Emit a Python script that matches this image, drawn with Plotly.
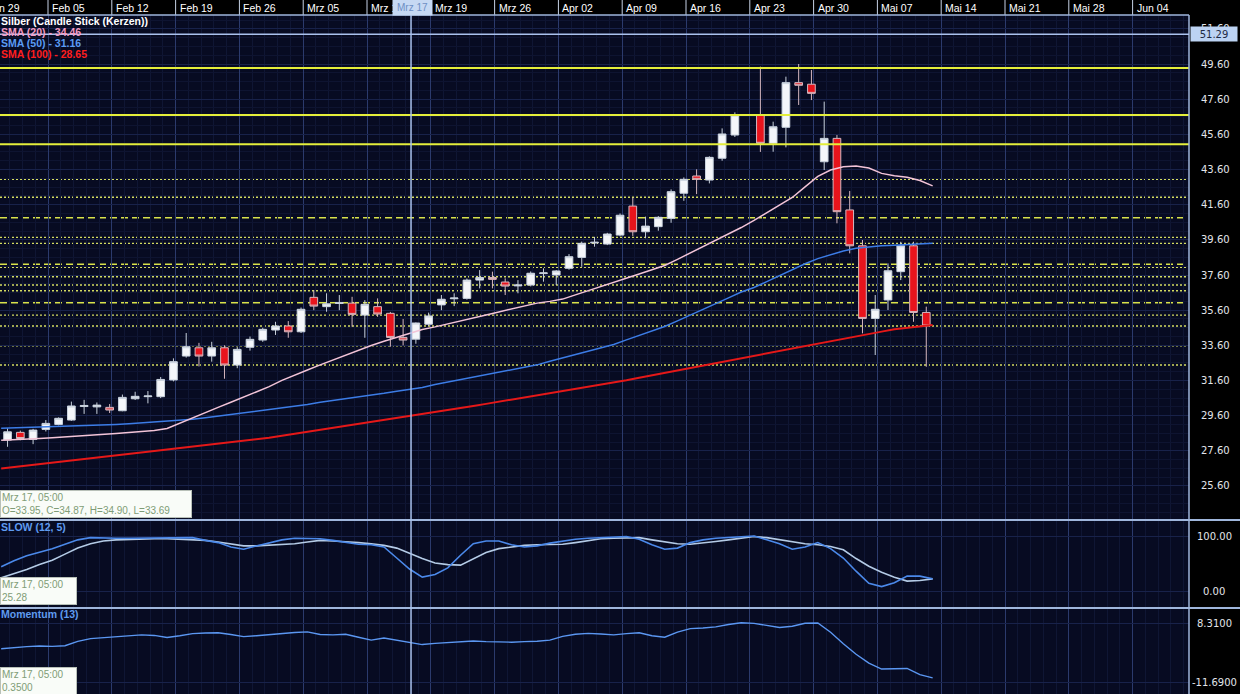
import numpy as np
import pandas as pd
import plotly.graph_objects as go

W, H = 1240, 694

# ---------------- data ----------------
dates = pd.bdate_range("2011-01-31", "2011-05-12")  # 74 trading days

opens = [28.10, 28.21, 28.65, 28.25, 28.82, 29.10, 29.35, 30.12, 30.10, 30.07,
         29.88, 30.56, 30.68, 30.68, 31.63, 32.99, 33.46, 32.99, 33.46, 32.48,
         33.49, 33.90, 34.47, 34.70, 34.37, 36.33, 35.80, 35.98, 36.00, 35.32,
         35.80, 35.42, 34.05, 33.95, 34.80, 35.90, 36.25, 36.27, 37.31, 37.46,
         37.20, 36.98, 37.03, 37.68, 37.60, 37.98, 38.60, 39.42, 39.36, 39.87,
         41.52, 40.06, 40.35, 40.82, 42.25, 43.23, 43.00, 44.24, 45.56, 46.68,
         46.70, 45.09, 46.00, 48.54, 48.45, 44.04, 45.37, 41.30, 39.26, 35.13,
         36.18, 37.79, 39.26, 35.47]
highs = [28.50, 28.88, 28.75, 28.85, 29.35, 29.50, 30.40, 30.50, 30.35, 30.26,
         30.80, 30.96, 31.00, 31.80, 32.86, 34.30, 33.74, 33.80, 33.60, 33.50,
         34.10, 34.60, 34.94, 34.98, 35.75, 36.74, 36.56, 36.46, 36.36, 36.17,
         36.27, 35.50, 35.10, 34.90, 35.46, 36.46, 36.56, 37.40, 37.88, 37.79,
         37.41, 37.31, 37.80, 37.98, 37.88, 38.79, 39.50, 39.77, 40.00, 41.10,
         42.00, 40.92, 40.95, 42.47, 43.15, 43.61, 44.35, 45.94, 46.85, 46.75,
         49.45, 46.32, 48.88, 49.60, 49.26, 47.46, 45.56, 42.38, 39.59, 36.46,
         38.26, 39.49, 39.49, 35.80]
lows = [27.90, 27.83, 28.20, 27.98, 28.70, 29.05, 29.30, 29.70, 29.70, 29.75,
        29.85, 30.49, 30.30, 30.60, 31.55, 32.90, 32.40, 32.67, 31.70, 32.30,
        33.30, 33.80, 34.19, 34.03, 34.30, 35.60, 35.51, 35.60, 34.66, 34.03,
        35.22, 33.52, 33.60, 33.69, 34.70, 35.60, 35.83, 36.20, 36.84, 36.84,
        36.46, 36.56, 36.95, 37.22, 37.03, 37.90, 38.07, 39.21, 39.30, 39.80,
        39.82, 39.69, 40.12, 40.57, 41.82, 42.20, 42.81, 44.10, 45.45, 46.65,
        44.60, 44.61, 44.86, 47.27, 47.55, 43.57, 40.54, 38.83, 34.28, 33.05,
        35.61, 37.31, 34.94, 32.38]
closes = [28.35, 28.68, 28.30, 28.78, 29.16, 29.45, 30.15, 30.18, 30.20, 29.92,
          30.64, 30.70, 30.72, 31.66, 32.67, 33.52, 32.99, 33.46, 32.48, 33.37,
          33.94, 34.51, 34.70, 34.37, 35.65, 35.83, 35.96, 36.02, 35.36, 35.93,
          35.38, 34.05, 33.90, 34.87, 35.27, 36.22, 36.29, 37.31, 37.46, 37.35,
          36.97, 37.03, 37.70, 37.72, 37.83, 38.64, 39.40, 39.46, 39.93, 41.00,
          40.06, 40.38, 40.88, 42.34, 43.04, 43.04, 44.29, 45.62, 46.70, 46.72,
          45.09, 46.03, 48.54, 48.39, 47.93, 45.37, 41.20, 39.26, 35.13, 35.65,
          37.84, 39.26, 35.47, 34.70]

sma20 = [28.20, 28.22, 28.26, 28.30, 28.34, 28.38, 28.43, 28.48, 28.53, 28.58,
         28.64, 28.70, 28.75, 28.87, 29.18, 29.49, 29.78, 30.07, 30.36, 30.65,
         30.94, 31.25, 31.61, 31.92, 32.20, 32.49, 32.77, 33.05, 33.33, 33.59,
         33.83, 34.06, 34.29, 34.50, 34.65, 34.81, 34.98, 35.15, 35.33, 35.50,
         35.67, 35.84, 36.00, 36.10, 36.23, 36.47, 36.70, 36.94, 37.18, 37.42,
         37.66, 37.90, 38.14, 38.49, 38.85, 39.21, 39.57, 39.94, 40.30, 40.71,
         41.13, 41.55, 42.01, 42.61, 43.21, 43.57, 43.76, 43.80, 43.68, 43.38,
         43.24, 43.16, 42.97, 42.67]
sma50 = [28.88, 28.90, 28.92, 28.95, 28.97, 29.00, 29.02, 29.04, 29.06, 29.10,
         29.14, 29.19, 29.24, 29.28, 29.33, 29.39, 29.48, 29.57, 29.66, 29.76,
         29.85, 29.94, 30.03, 30.12, 30.24, 30.36, 30.46, 30.54, 30.65, 30.76,
         30.87, 30.99, 31.10, 31.20, 31.37, 31.51, 31.66, 31.80, 31.94, 32.08,
         32.21, 32.35, 32.49, 32.69, 32.88, 33.06, 33.24, 33.43, 33.65, 33.91,
         34.16, 34.42, 34.67, 34.99, 35.31, 35.63, 35.94, 36.30, 36.63, 36.89,
         37.22, 37.57, 37.90, 38.24, 38.53, 38.75, 38.97, 39.12, 39.21, 39.26,
         39.29, 39.33, 39.37, 39.41]
sma100 = [26.59, 26.67, 26.75, 26.84, 26.92, 27.00, 27.09, 27.17, 27.25, 27.34,
          27.42, 27.51, 27.59, 27.68, 27.76, 27.84, 27.93, 28.01, 28.10, 28.18,
          28.26, 28.35, 28.46, 28.57, 28.68, 28.79, 28.90, 29.01, 29.12, 29.23,
          29.34, 29.45, 29.56, 29.67, 29.79, 29.91, 30.03, 30.15, 30.27, 30.39,
          30.51, 30.63, 30.75, 30.87, 30.99, 31.11, 31.23, 31.35, 31.48, 31.62,
          31.76, 31.90, 32.04, 32.18, 32.32, 32.46, 32.60, 32.74, 32.88, 33.01,
          33.15, 33.29, 33.43, 33.57, 33.71, 33.85, 33.98, 34.11, 34.25, 34.38,
          34.51, 34.60, 34.68, 34.75]

slow_k = [44, 55, 64, 70, 77, 85, 93, 97, 96, 96,
          96, 96, 97, 97, 97, 97, 92, 88, 80, 76,
          82, 88, 93, 96, 96, 95, 92, 88, 85, 84,
          80, 60, 40, 25.28, 30, 42, 65, 86, 91, 91,
          84, 80, 82, 87, 91, 94, 96, 97, 98, 99,
          94, 84, 76, 78, 88, 93, 96, 97, 99, 100,
          93, 86, 76, 80, 88, 77, 60, 36, 14, 8,
          15, 27, 27, 22]
slow_d = [24, 31, 39, 48, 56, 67, 78, 86, 91, 93,
          94, 94, 95, 95, 94, 93, 92, 89, 86, 82,
          82, 83, 84, 86, 89, 92, 91, 90, 88, 86,
          83, 78, 68, 59, 51, 48, 47, 58, 70, 77,
          80, 83, 84, 84, 85, 88, 92, 95, 96, 97,
          97, 93, 89, 86, 85, 87, 90, 93, 96, 99,
          97, 93, 89, 86, 84, 81, 75, 59, 45, 34,
          25, 18, 19, 22]
momentum = [-0.3, 0.1, 0.4, 0.6, 0.5, 0.7, 2.2, 3.1, 3.4, 3.7,
            4.1, 4.4, 4.2, 3.5, 4.1, 4.8, 5.0, 5.1, 4.5, 3.8,
            4.1, 4.5, 4.9, 5.2, 5.4, 4.5, 4.4, 4.6, 3.6, 2.6,
            3.3, 2.6, 1.7, 1.1, 1.5, 1.7, 2.0, 2.3, 2.1, 1.9,
            1.9, 2.1, 2.2, 2.6, 3.9, 4.6, 4.9, 4.7, 4.4, 4.8,
            5.1, 4.1, 3.6, 5.3, 6.5, 6.7, 7.1, 7.9, 8.5, 8.3,
            7.6, 6.9, 7.3, 8.31, 8.4, 5.3, 1.4, -2.2, -5.2, -7.2,
            -7.1, -7.0, -9.1, -10.2]

week_labels = ["Jan 29", "Feb 05", "Feb 12", "Feb 19", "Feb 26", "Mrz 05", "Mrz 12",
               "Mrz 19", "Mrz 26", "Apr 02", "Apr 09", "Apr 16", "Apr 23", "Apr 30",
               "Mai 07", "Mai 14", "Mai 21", "Mai 28", "Jun 04"]
price_ticks = [25.6, 27.6, 29.6, 31.6, 33.6, 35.6, 37.6, 39.6, 41.6, 43.6, 45.6, 47.6, 49.6, 51.6]
slow_ticks = [0, 100]
mom_ticks = [8.31, -11.69]

solid_levels = [49.37, 46.70, 45.03]
dashed_levels = [40.86, 38.21, 36.02]
dotted_levels = [43.04, 42.02, 39.74, 39.40, 38.04, 37.50, 37.03, 36.70, 35.32, 34.70, 33.58, 32.48]

cross_date = "2011-03-17"
cross_price = 51.29
tip_main = "Mrz 17, 05:00<br>O=33.95, C=34.87, H=34.90, L=33.69"
tip_slow = "Mrz 17, 05:00<br>25.28"
tip_mom = "Mrz 17, 05:00<br>0.3500"

# ---------------- geometry helpers ----------------
x = np.arange(len(dates))
GRID0 = -0.83          # first weekly boundary (Sat) in index units
LINE_SHIFT = 0.5       # indicator lines are drawn at bar end
XR = [0.4075, 93.59]
XDOM = [0, 1189 / W]


def py(px):
    return 1 - px / H


def x_to_paper(v):
    return XDOM[0] + (v - XR[0]) / (XR[1] - XR[0]) * (XDOM[1] - XDOM[0])


grid_x = [GRID0 + 5 * k for k in range(len(week_labels))]
cross_x = list(dates.strftime("%Y-%m-%d")).index(cross_date) - 0.38

FONT = "Liberation Sans"

fig = go.Figure()

fig.add_trace(go.Candlestick(
    x=x, open=opens, high=highs, low=lows, close=closes,
    increasing=dict(fillcolor="#f4f6fa", line=dict(color="#c9d2de", width=1)),
    decreasing=dict(fillcolor="#e8141c", line=dict(color="#d6b8c0", width=1)),
    whiskerwidth=0, xaxis="x", yaxis="y", showlegend=False, hoverinfo="skip"))

xl = x + LINE_SHIFT
fig.add_trace(go.Scatter(x=xl, y=sma100, mode="lines", line=dict(color="#e51818", width=2),
                         xaxis="x", yaxis="y", showlegend=False))
fig.add_trace(go.Scatter(x=xl, y=sma50, mode="lines", line=dict(color="#3c7ce6", width=1.5),
                         xaxis="x", yaxis="y", showlegend=False))
fig.add_trace(go.Scatter(x=xl, y=sma20, mode="lines", line=dict(color="#f3c4d8", width=1.5),
                         xaxis="x", yaxis="y", showlegend=False))

fig.add_trace(go.Scatter(x=xl, y=slow_d, mode="lines", line=dict(color="#b4cbe6", width=1.6),
                         xaxis="x", yaxis="y2", showlegend=False))
fig.add_trace(go.Scatter(x=xl, y=slow_k, mode="lines", line=dict(color="#4b89ea", width=1.6),
                         xaxis="x", yaxis="y2", showlegend=False))
fig.add_trace(go.Scatter(x=xl, y=momentum, mode="lines", line=dict(color="#5b97f2", width=1.4),
                         xaxis="x", yaxis="y3", showlegend=False))

shapes = []
# support / resistance levels
for lv in solid_levels:
    shapes.append(dict(type="line", xref="x domain", yref="y", x0=0, x1=1, y0=lv, y1=lv,
                       line=dict(color="#e4ee3a", width=2), layer="above"))
for lv in dashed_levels:
    shapes.append(dict(type="line", xref="x domain", yref="y", x0=0, x1=0.998, y0=lv, y1=lv,
                       line=dict(color="#d9e24a", width=1.6, dash="7px,4px"), layer="below"))
for lv in dotted_levels:
    shapes.append(dict(type="line", xref="x domain", yref="y", x0=0, x1=0.998, y0=lv, y1=lv,
                       line=dict(color="#d4dc62", width=1.4, dash="2px,2px"), layer="below"))

# top label band separators
for gx in grid_x:
    shapes.append(dict(type="line", xref="x", yref="paper", x0=gx, x1=gx, y0=py(15), y1=1,
                       line=dict(color="#c6d2e6", width=1)))
# frame and panel separators
shapes.append(dict(type="line", xref="paper", yref="paper", x0=0, x1=XDOM[1], y0=py(15), y1=py(15),
                   line=dict(color="#9fb6dc", width=1.5)))
shapes.append(dict(type="line", xref="paper", yref="paper", x0=XDOM[1], x1=XDOM[1], y0=0, y1=py(15),
                   line=dict(color="#9fb6dc", width=1.5)))
for sep in (520, 608):
    shapes.append(dict(type="line", xref="paper", yref="paper", x0=0, x1=1, y0=py(sep), y1=py(sep),
                       line=dict(color="#9fb6dc", width=2)))
# crosshair
shapes.append(dict(type="line", xref="x", yref="paper", x0=cross_x, x1=cross_x, y0=0, y1=py(14),
                   line=dict(color="#aac2ee", width=1.5)))
shapes.append(dict(type="line", xref="x domain", yref="y", x0=0, x1=1, y0=cross_price, y1=cross_price,
                   line=dict(color="#aac2ee", width=1.5)))

annotations = []
for gx, lab in zip(grid_x, week_labels):
    annotations.append(dict(x=x_to_paper(gx), xref="paper", y=py(7.5), yref="paper", text=lab,
                            showarrow=False, xanchor="left", yanchor="middle", xshift=2,
                            font=dict(family=FONT, size=10.5, color="#ffffff")))
# crosshair labels
annotations.append(dict(x=cross_x, xref="x", y=py(7.5), yref="paper", text="Mrz 17", showarrow=False,
                        xanchor="left", yanchor="middle", xshift=-19, bgcolor="#c6d9f3",
                        width=37, height=13, font=dict(family=FONT, size=10, color="#6d8fc4")))
annotations.append(dict(x=1213.5 / W, xref="paper", y=cross_price, yref="y", text="51.29", showarrow=False,
                        xanchor="center", yanchor="middle", bgcolor="#bcd3f3", width=44, height=12,
                        font=dict(family="DejaVu Sans", size=10, color="#1e2a44")))
# legend text
leg = [("Silber (Candle Stick (Kerzen))", "#ffffff", 21),
       ("SMA (20) - 34.46", "#f59cc4", 32),
       ("SMA (50) - 31.16", "#5b9cf5", 43),
       ("SMA (100) - 28.65", "#ff1e1e", 54)]
for txt, col, ypx in leg:
    annotations.append(dict(x=0, xref="paper", y=py(ypx), yref="paper", text="<b>%s</b>" % txt,
                            showarrow=False, xanchor="left", yanchor="middle", xshift=-1,
                            font=dict(family=FONT, size=10.5, color=col)))
# panel titles
for txt, ypx in (("SLOW (12, 5)", 527), ("Momentum (13)", 614)):
    annotations.append(dict(x=0, xref="paper", y=py(ypx), yref="paper", text="<b>%s</b>" % txt,
                            showarrow=False, xanchor="left", yanchor="middle", xshift=-1,
                            font=dict(family=FONT, size=10.5, color="#5f9bf0")))
# right labels of lower panels (centered)
for v in slow_ticks:
    annotations.append(dict(x=1214 / W, xref="paper", y=v, yref="y2", text="%.2f" % v, showarrow=False,
                            xanchor="center", yanchor="middle",
                            font=dict(family="DejaVu Sans", size=10, color="#e2e5ea")))
for v in mom_ticks:
    annotations.append(dict(x=1214 / W, xref="paper", y=v, yref="y3", text="%.4f" % v, showarrow=False,
                            xanchor="center", yanchor="middle",
                            font=dict(family="DejaVu Sans", size=10, color="#e2e5ea")))
# tooltip boxes
for txt, top, w in ((tip_main, 490, 192), (tip_slow, 577, 77), (tip_mom, 667, 77)):
    annotations.append(dict(x=0, xref="paper", y=py(top), yref="paper", text=txt, showarrow=False,
                            xanchor="left", yanchor="top", align="left", valign="middle",
                            width=w - 4, height=24, bgcolor="#f9fcf8", bordercolor="#b8c0b8",
                            borderwidth=1, borderpad=1,
                            font=dict(family=FONT, size=10, color="#7f9c76")))

fig.update_layout(
    width=W, height=H,
    margin=dict(l=0, r=0, t=0, b=0),
    paper_bgcolor="#000000",
    plot_bgcolor="#070b22",
    boxgap=0.14,
    showlegend=False,
    hovermode=False,
    xaxis=dict(domain=XDOM, range=XR, anchor="y3", showticklabels=False, ticks="",
               tickmode="array", tickvals=grid_x, showgrid=True, gridcolor="#2b3a6c", gridwidth=1,
               zeroline=False, showline=False, rangeslider=dict(visible=False),
               minor=dict(tickmode="linear", tick0=GRID0, dtick=1, showgrid=True,
                          gridcolor="#0f1634", gridwidth=1)),
    yaxis=dict(domain=[py(520), py(15)], range=[23.666, 52.387], anchor="x", side="right",
               tickmode="array", tickvals=price_ticks, ticktext=["%.2f" % v for v in price_ticks],
               tickfont=dict(family="DejaVu Sans", size=10, color="#e2e5ea"), ticks="",
               ticklabelstandoff=11, showgrid=True, gridcolor="#18224a", zeroline=False,
               minor=dict(tickmode="linear", tick0=23.6, dtick=0.5, showgrid=True,
                          gridcolor="#0e1431")),
    yaxis2=dict(domain=[py(607), py(521)], range=[-29.09, 127.27], anchor="x", side="right",
                tickmode="array", tickvals=slow_ticks, showticklabels=False, ticks="",
                showgrid=True, gridcolor="#18224a", zeroline=False),
    yaxis3=dict(domain=[0, py(609)], range=[-15.66, 13.16], anchor="x", side="right",
                tickmode="array", tickvals=mom_ticks, showticklabels=False, ticks="",
                showgrid=True, gridcolor="#18224a", zeroline=False),
    shapes=shapes,
    annotations=annotations,
)

fig.write_html("out.html")
